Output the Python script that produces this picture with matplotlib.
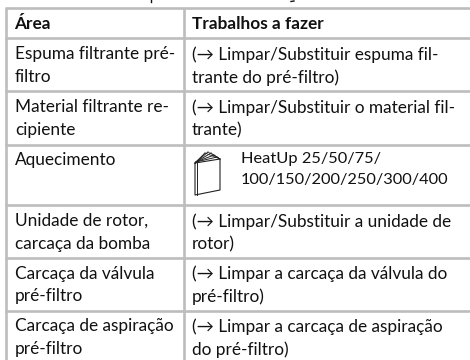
import matplotlib
matplotlib.use("Agg")
import matplotlib.pyplot as plt

# table content
headers = ["Área", "Trabalhos a fazer"]
areas = [
    "Espuma filtrante pré-\nfiltro",
    "Material filtrante re-\ncipiente",
    "Aquecimento",
    "Unidade de rotor,\ncarcaça da bomba",
    "Carcaça da válvula\npré-filtro",
    "Carcaça de aspiração\npré-filtro",
]
tasks = [
    "(→ Limpar/Substituir espuma fil-\ntrante do pré-filtro)",
    "(→ Limpar/Substituir o material fil-\ntrante)",
    "HeatUp 25/50/75/\n100/150/200/250/300/400",
    "(→ Limpar/Substituir a unidade de\nrotor)",
    "(→ Limpar a carcaça da válvula do\npré-filtro)",
    "(→ Limpar a carcaça de aspiração\ndo pré-filtro)",
]
row_lines = [7.5, 38, 91, 144.5, 205, 257.5, 310.5]
col_lines = [6, 184]

GRID = "#bdbdbd"
TEXT = "#111111"
FS = 12.4

plt.rcParams["font.family"] = ["Lato", "DejaVu Sans"]
fig = plt.figure(figsize=(4.7, 3.6), dpi=100)
ax = fig.add_axes([0, 0, 1, 1])
ax.set_xlim(0, 470)
ax.set_ylim(360, 0)
ax.axis("off")

for y in row_lines:
    ax.plot([col_lines[0] - 1, 470], [y, y], color=GRID, lw=1.9, solid_capstyle="butt")
for x in col_lines:
    ax.plot([x, x], [row_lines[0], 360], color=GRID, lw=1.9, solid_capstyle="butt")

ax.text(14, 24, headers[0], fontsize=FS, fontweight="bold", color=TEXT, va="center")
ax.text(192, 24, headers[1], fontsize=FS, fontweight="bold", color=TEXT, va="center")

for i in range(len(areas)):
    top = row_lines[i + 1] + 8
    ax.text(15, top, areas[i], fontsize=FS, color=TEXT, va="top", linespacing=1.5)
    if i == 2:
        # digits run wider in this font, so the HeatUp cell is a bit smaller
        ax.text(241, top, tasks[i], fontsize=11.8, color=TEXT, va="top", linespacing=1.58)
    else:
        ax.text(192, top, tasks[i], fontsize=FS, color=TEXT, va="top", linespacing=1.5)

# descenders of the cut-off line above the table
ax.plot([151, 151], [0, 1.5], color=TEXT, lw=1)
ax.plot([291, 294], [1.5, 1], color=TEXT, lw=1)

# book icon
ax.plot([195, 195, 220, 220, 195], [163, 195, 190, 159, 163], color="#222222", lw=0.8)
ax.plot([197, 197], [163, 195], color="#222222", lw=0.7)
for tip in [(205, 153), (208, 152), (211, 153), (214, 155), (217, 157)]:
    ax.plot([196, tip[0]], [162, tip[1]], color="#222222", lw=0.7)
    ax.plot([tip[0], 220], [tip[1], 159], color="#222222", lw=0.5)

fig.savefig("out.png", dpi=100)
